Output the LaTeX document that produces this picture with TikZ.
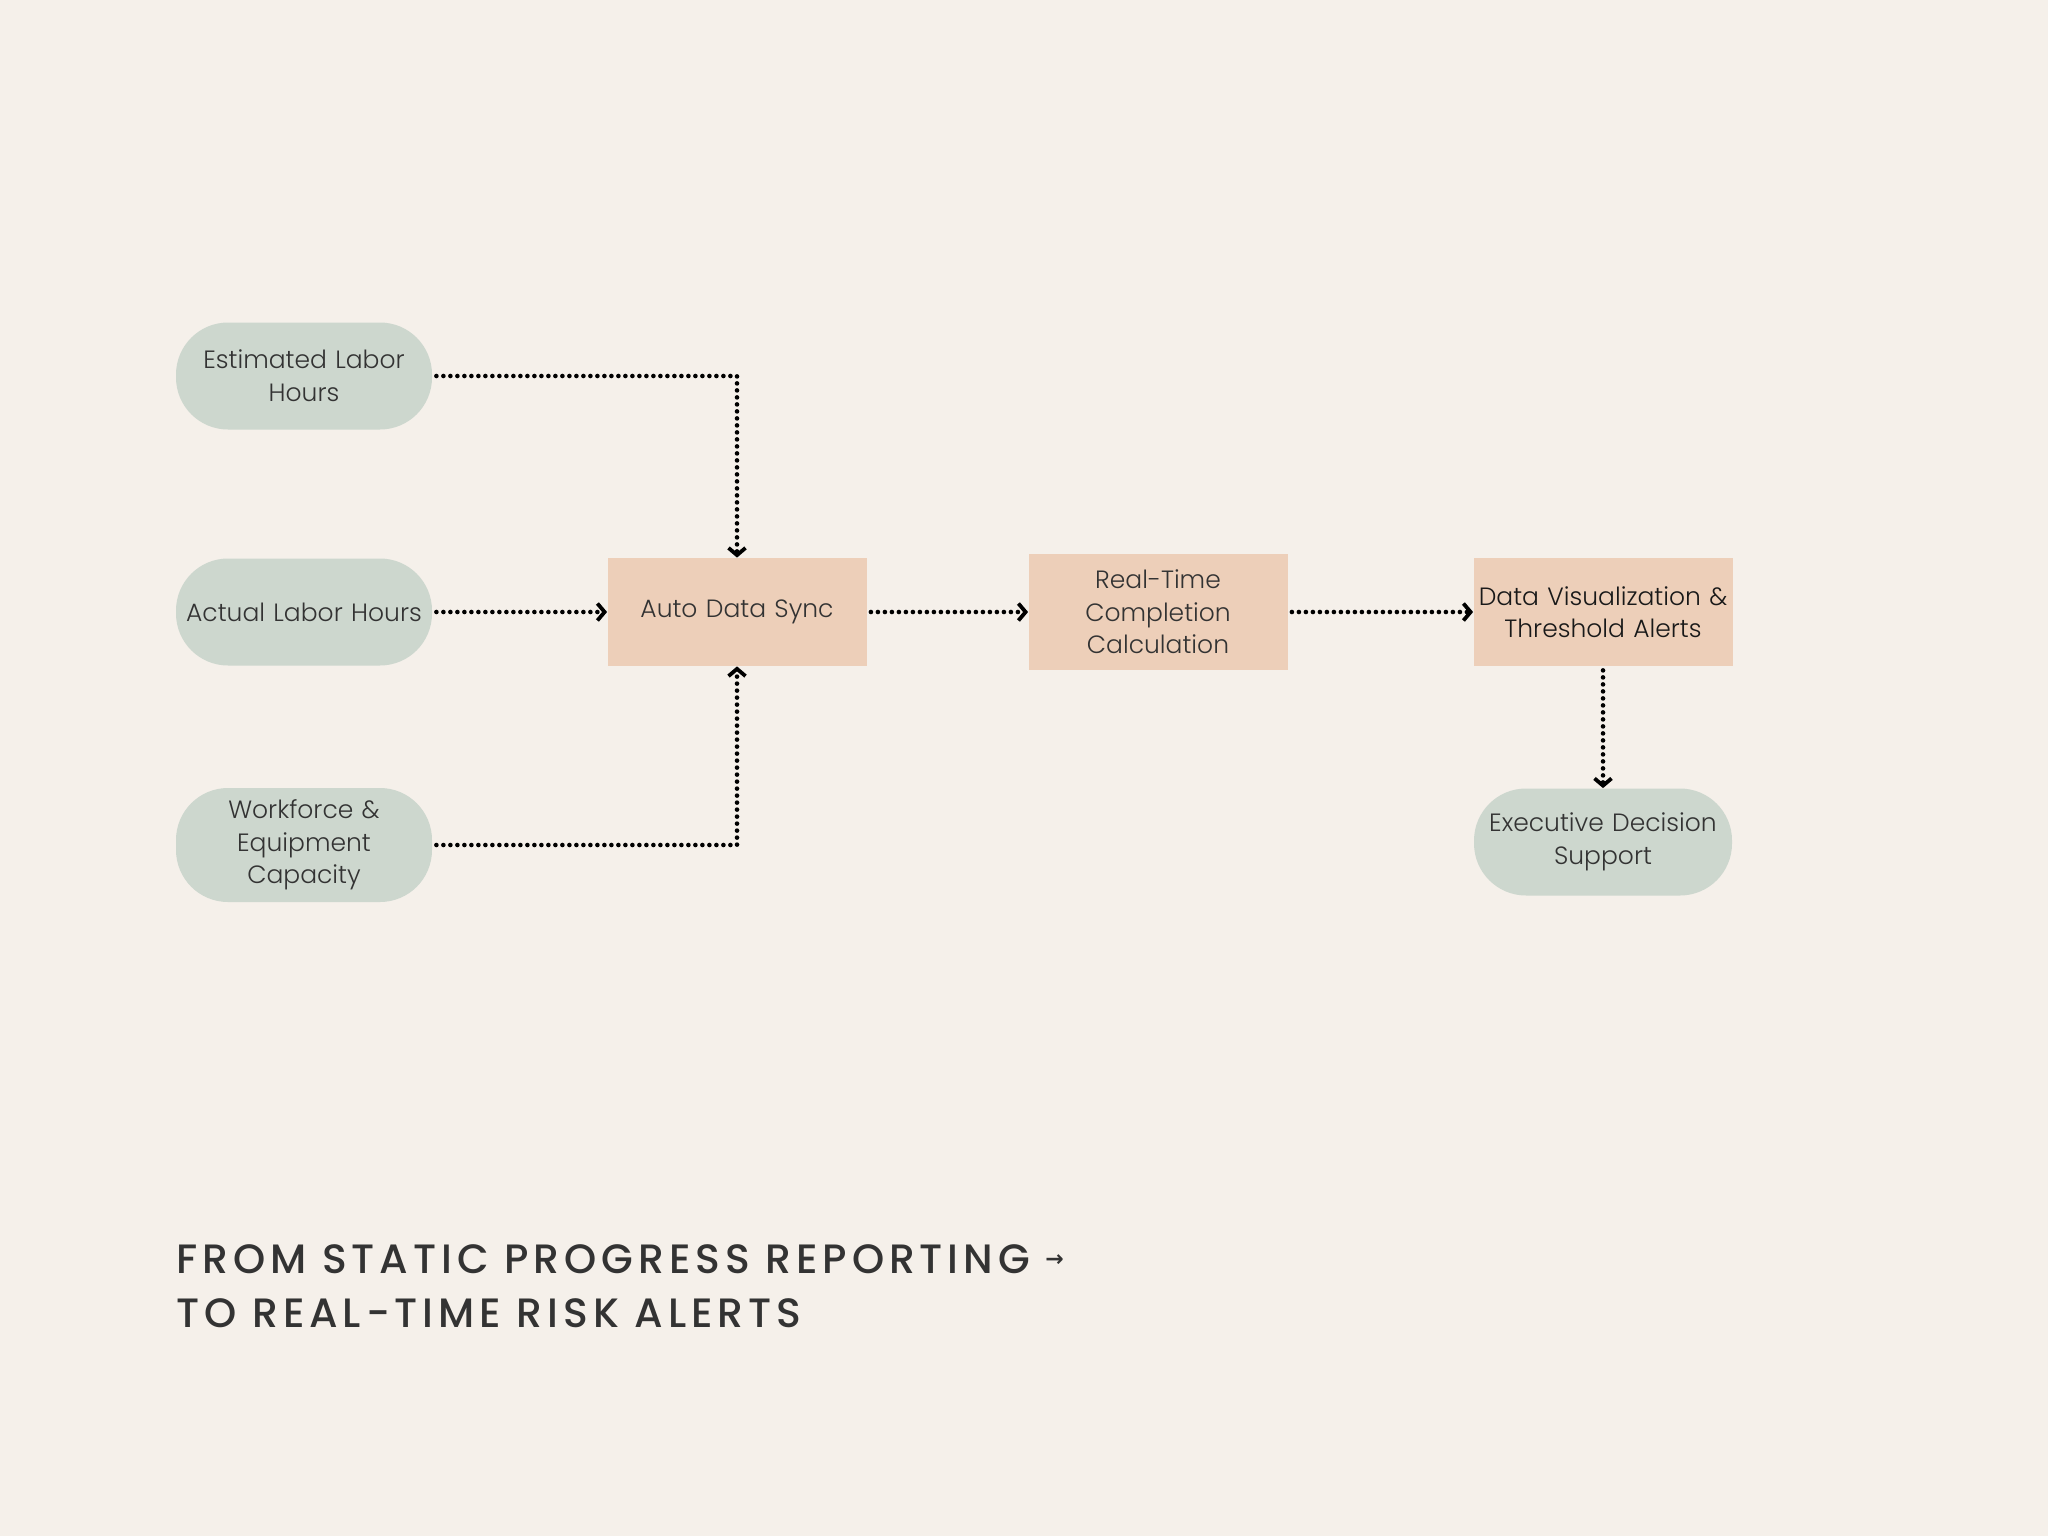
\documentclass[tikz,border=0pt]{standalone}
\usepackage{fontspec}
\setmainfont{Poppins}
\newfontfamily\nodefont{Poppins Light}
\newfontfamily\titlefont[LetterSpace=12]{Poppins Medium}
\newfontfamily\arrowfont{DejaVu Sans Bold}
\usetikzlibrary{arrows.meta}
\definecolor{bg}{HTML}{F5F0EA}
\definecolor{pillc}{HTML}{CDD7CE}
\definecolor{boxc}{HTML}{EDCFB9}
\definecolor{txt}{HTML}{333333}
\definecolor{titlec}{HTML}{333333}
\tikzset{
  pill/.style={fill=pillc, rounded corners=26pt, minimum width=128pt, minimum height=53.5pt, inner sep=2pt, align=center, text width=124pt, font=\nodefont\fontsize{12.5}{16.3}\selectfont, text=txt},
  procbox/.style={fill=boxc, minimum width=129.5pt, minimum height=54pt, inner sep=2pt, align=center, text width=125pt, font=\nodefont\fontsize{12.5}{16.3}\selectfont, text=txt},
  flow/.style={line width=2.3pt, dash pattern=on 0pt off 3.5pt, line cap=round, draw=black, -{Straight Barb[length=3.6pt,width=8.5pt,line width=1.9pt]}, shorten <=2pt},
}
\begin{document}
\begin{tikzpicture}[x=0.5pt,y=-0.5pt]
\useasboundingbox[fill=bg] (0,0) rectangle (2048,1536);
\node[pill] (est) at (304,376) {Estimated Labor\\Hours};
\node[pill] (act) at (304,612) {Actual Labor Hours};
\node[pill, minimum height=57pt] (wf) at (304,845) {Workforce \&\\Equipment\\Capacity};
\node[procbox] (sync) at (737,612) {Auto Data Sync};
\node[procbox, minimum height=58pt] (rt) at (1158,612) {Real-Time\\Completion\\Calculation};
\node[procbox, text=black!90] (dv) at (1603,612) {Data Visualization \&\\Threshold Alerts};
\node[pill, minimum width=129pt] (ex) at (1603,842) {Executive Decision\\Support};
\draw[flow] (est.east) -| (sync.north);
\draw[flow] (act.east) -- (sync.west);
\draw[flow] (wf.east) -| (sync.south);
\draw[flow] (sync.east) -- (rt.west);
\draw[flow] (rt.east) -- (dv.west);
\draw[flow] (dv.south) -- (ex.north);
\node[anchor=base west, align=left, inner sep=0pt, text=titlec, font=\titlefont\fontsize{20.5}{27}\selectfont] (title) at (176,1327) {FROM STATIC PROGRESS REPORTING {\arrowfont\fontsize{11}{11}\selectfont\raisebox{3.2pt}{→}}\\TO REAL-TIME RISK ALERTS};
\end{tikzpicture}
\end{document}
